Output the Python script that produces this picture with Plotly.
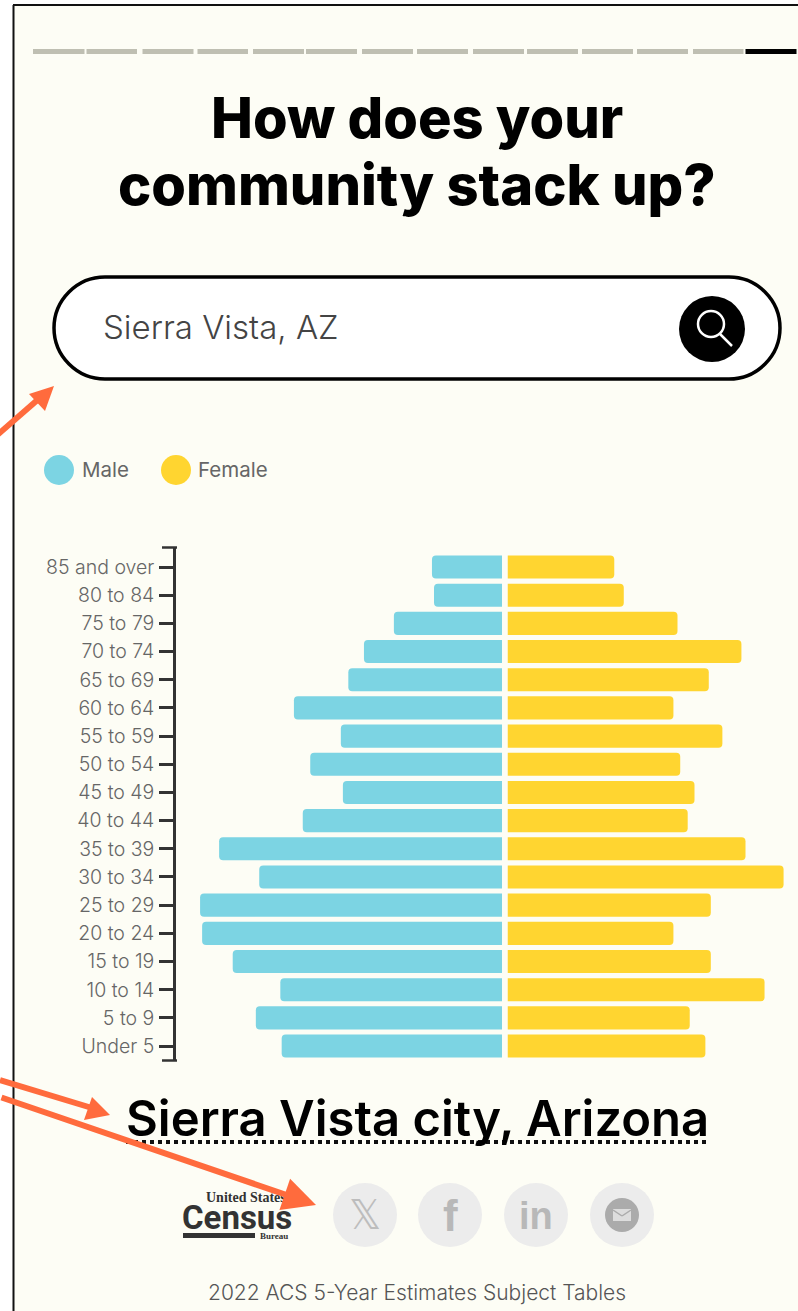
import plotly.graph_objects as go

W, H = 798, 1311

ages = ["Under 5", "5 to 9", "10 to 14", "15 to 19", "20 to 24", "25 to 29", "30 to 34", "35 to 39",
        "40 to 44", "45 to 49", "50 to 54", "55 to 59", "60 to 64", "65 to 69", "70 to 74", "75 to 79",
        "80 to 84", "85 and over"]
male = [3.24, 3.62, 3.26, 3.96, 4.41, 4.44, 3.57, 4.16, 2.93, 2.34, 2.82, 2.37, 3.06, 2.26, 2.03, 1.59, 1.00, 1.03]
female = [2.91, 2.68, 3.78, 2.99, 2.44, 2.99, 4.06, 3.50, 2.65, 2.75, 2.54, 3.16, 2.44, 2.96, 3.44, 2.50, 1.71, 1.57]

MALE_COLOR = "#7CD4E3"
FEMALE_COLOR = "#FFD530"
BG = "#FDFDF5"
ORANGE = "#FF6B3D"
PX_PER_UNIT = 68

def px(x): return x / W
def py(y): return 1 - y / H

shapes = []
def rect(x0, y0, x1, y1, color, layer="below", radius=None, line=None, lw=0):
    shapes.append(dict(type="rect", xref="paper", yref="paper", x0=px(x0), x1=px(x1), y0=py(y0), y1=py(y1),
                       fillcolor=color, line=dict(width=lw, color=line or color), layer=layer))
def circle(cx, cy, r, color, layer="below", line=None, lw=0):
    shapes.append(dict(type="circle", xref="paper", yref="paper", x0=px(cx-r), x1=px(cx+r), y0=py(cy-r), y1=py(cy+r),
                       fillcolor=color, line=dict(width=lw, color=line or color), layer=layer))
def seg(x0, y0, x1, y1, color, w, dash="solid", layer="above"):
    shapes.append(dict(type="line", xref="paper", yref="paper", x0=px(x0), x1=px(x1), y0=py(y0), y1=py(y1),
                       line=dict(color=color, width=w, dash=dash), layer=layer))
def poly(points, color, layer="above"):
    d = "M " + " L ".join(f"{px(a):.5f},{py(b):.5f}" for a, b in points) + " Z"
    shapes.append(dict(type="path", xref="paper", yref="paper", path=d, fillcolor=color,
                       line=dict(width=0, color=color), layer=layer))

# page
rect(13, 5, 798, 1311, BG)
seg(13, 5, 798, 5, "#111111", 2, layer="below")
seg(13.5, 5, 13.5, 1311, "#111111", 2, layer="below")

# progress bar
segments = [(33, 84.5), (86.5, 137), (142.5, 193.5), (197.5, 248), (253, 304), (306, 357), (362, 413),
            (417, 468), (473, 524), (527, 578), (582, 633), (637, 688), (693, 743.5)]
for a, b in segments:
    rect(a, 49, b, 54, "#BFBFB2")
rect(745.5, 49, 796.5, 54, "#000000")

# search box
x0, x1, y0, y1, r = 54, 780, 277, 379, 51
d = (f"M {px(x0+r):.5f},{py(y0):.5f} L {px(x1-r):.5f},{py(y0):.5f} "
     f"C {px(x1-r*0.45):.5f},{py(y0):.5f} {px(x1):.5f},{py(y0+r*0.45):.5f} {px(x1):.5f},{py(y0+r):.5f} "
     f"C {px(x1):.5f},{py(y1-r*0.45):.5f} {px(x1-r*0.45):.5f},{py(y1):.5f} {px(x1-r):.5f},{py(y1):.5f} "
     f"L {px(x0+r):.5f},{py(y1):.5f} "
     f"C {px(x0+r*0.45):.5f},{py(y1):.5f} {px(x0):.5f},{py(y1-r*0.45):.5f} {px(x0):.5f},{py(y1-r):.5f} "
     f"C {px(x0):.5f},{py(y0+r*0.45):.5f} {px(x0+r*0.45):.5f},{py(y0):.5f} {px(x0+r):.5f},{py(y0):.5f} Z")
shapes.append(dict(type="path", xref="paper", yref="paper", path=d, fillcolor="#FFFFFF",
                   line=dict(color="#000000", width=3.5), layer="below"))
circle(712, 329, 33, "#000000")
circle(711, 324, 13, "rgba(0,0,0,0)", line="#FFFFFF", lw=2.5)
seg(720, 334, 732, 346, "#FFFFFF", 2.5)

# legend
circle(59, 470, 15, MALE_COLOR)
circle(176, 470, 15, FEMALE_COLOR)

# axis end caps
seg(162, 547.5, 177, 547.5, "#333333", 2.5)
seg(162, 1060.5, 177, 1060.5, "#333333", 2.5)

# location underline
seg(126, 1142, 708, 1142, "#111111", 4, dash="dot")

# share icons
for cx in (365, 450, 536, 622):
    circle(cx, 1215, 32, "#ECECEC")
circle(622, 1215, 17, "#ABABAB")
rect(613, 1209, 631, 1221, "#DDDDDD")
seg(613, 1210, 622, 1216, "#ABABAB", 1.5, layer="below")
seg(631, 1210, 622, 1216, "#ABABAB", 1.5, layer="below")

# census rule
rect(183, 1233, 255, 1238, "#333333")

# annotation arrows
seg(-5, 437, 42, 396, ORANGE, 6)
poly([(54, 386), (29, 394), (45, 411)], ORANGE)
seg(0, 1080, 92, 1108, ORANGE, 6)
poly([(110, 1115), (84, 1120), (92, 1097)], ORANGE)

annotations = []
def text(x, y, s, size, color="#111111", family="Inter", weight=400, anchor="center"):
    annotations.append(dict(xref="paper", yref="paper", x=px(x), y=py(y), text=s, showarrow=False,
                            xanchor=anchor, yanchor="middle", align=anchor,
                            font=dict(family=family, size=size, color=color, weight=weight)))

text(417, 118, "How does your", 56, "#000000", weight=800)
text(417, 185, "community stack up?", 56, "#000000", weight=800)
text(101, 327, "Sierra Vista, AZ", 33, "#444444", weight=300, anchor="left")
text(80, 470, "Male", 20.5, "#666666", anchor="left")
text(196, 470, "Female", 20.5, "#666666", anchor="left")
text(417, 1118, "Sierra Vista city, Arizona", 49, "#000000", weight=600)
text(417, 1292, "2022 ACS 5-Year Estimates Subject Tables", 21, "#555555", weight=300)
text(246, 1197, "United States", 14, "#333333", family="Liberation Serif", weight=700)
text(237, 1217, "Census", 33, "#333333", family="Roboto", weight=700)
text(274, 1236, "Bureau", 9, "#333333", family="Liberation Serif", weight=700)
text(365, 1215, "𝕏", 40, "#BDBDBD", family="DejaVu Sans")
text(450, 1215, "f", 44, "#B8B8B8", family="Liberation Sans", weight=700)
text(536, 1216, "in", 38, "#B8B8B8", family="Liberation Sans", weight=700)

# third arrow is an annotation so it crosses over the logo text
annotations.append(dict(xref="paper", yref="paper", x=px(316), y=py(1205), text="", showarrow=True,
                        ax=-316, ay=-108, arrowcolor=ORANGE, arrowwidth=6, arrowhead=2, arrowsize=1.1))

fig = go.Figure()
fig.add_bar(name="Male", y=ages, x=male, orientation="h", marker=dict(color=MALE_COLOR, line_width=0),
            xaxis="x", yaxis="y", width=0.82, hoverinfo="skip")
fig.add_bar(name="Female", y=ages, x=female, orientation="h", marker=dict(color=FEMALE_COLOR, line_width=0),
            xaxis="x2", yaxis="y", width=0.82, hoverinfo="skip")

fig.update_layout(
    width=W, height=H, margin=dict(l=0, r=0, t=0, b=0, autoexpand=False),
    paper_bgcolor="#FFFFFF", plot_bgcolor="rgba(0,0,0,0)", showlegend=False, barcornerradius=4,
    xaxis=dict(domain=[px(176), px(502)], range=[326 / PX_PER_UNIT, 0], visible=False, anchor="y"),
    xaxis2=dict(domain=[px(507.5), 1], range=[0, 290.5 / PX_PER_UNIT], visible=False, anchor="y"),
    yaxis=dict(domain=[py(1061), py(547)], anchor="x", side="left", type="category",
               categoryorder="array", categoryarray=ages, range=[-0.53, 17.71],
               showline=True, linecolor="#333333", linewidth=2.5, showgrid=False, zeroline=False,
               ticks="outside", ticklen=14, tickwidth=2.5, tickcolor="#333333",
               tickfont=dict(family="Inter", size=19.5, color="#666666", weight=300),
               ticklabelstandoff=1, automargin=False),
    shapes=shapes, annotations=annotations,
)

fig.write_html("out.html", config=dict(displayModeBar=False),
               post_script="document.body.style.margin='0';document.body.style.overflow='hidden';")
